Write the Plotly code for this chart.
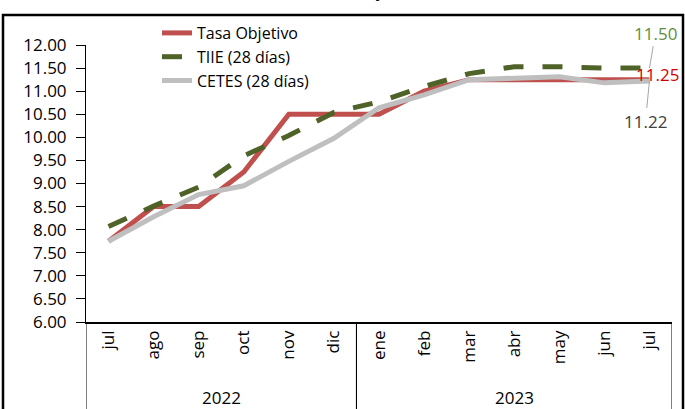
import plotly.graph_objects as go

years = ["2022"] * 6 + ["2023"] * 7
months = ["jul", "ago", "sep", "oct", "nov", "dic", "ene", "feb", "mar", "abr", "may", "jun", "jul"]

tasa_objetivo = [7.75, 8.50, 8.50, 9.25, 10.50, 10.50, 10.50, 11.00, 11.25, 11.25, 11.25, 11.25, 11.25]
tiie_28 = [8.07, 8.51, 8.92, 9.60, 10.04, 10.54, 10.77, 11.10, 11.38, 11.53, 11.53, 11.50, 11.50]
cetes_28 = [7.75, 8.28, 8.76, 8.95, 9.48, 9.98, 10.64, 10.92, 11.25, 11.27, 11.31, 11.18, 11.22]

y_ticks = [6.0, 6.5, 7.0, 7.5, 8.0, 8.5, 9.0, 9.5, 10.0, 10.5, 11.0, 11.5, 12.0]

FONT = "Open Sans"
FS = 17
W, H = 685, 409
ML, MR, MT, MB = 86, 13, 45, 87
pw, ph = W - ML - MR, H - MT - MB

def px_x(p):
    return (p - ML) / pw

def px_y(p):
    return (H - MB - p) / ph

idx = list(range(len(months)))

fig = go.Figure()
fig.add_trace(go.Scatter(x=idx, y=tasa_objetivo, mode="lines", name="Tasa Objetivo",
                         line=dict(color="#C0504D", width=5)))
fig.add_trace(go.Scatter(x=idx, y=tiie_28, mode="lines", name="TIIE (28 días)",
                         line=dict(color="#4F6228", width=5, dash="20px,19px")))
fig.add_trace(go.Scatter(x=idx, y=cetes_28, mode="lines", name="CETES (28 días)",
                         line=dict(color="#BFBFBF", width=5)))

last = idx[-1]
fig.add_annotation(x=last, y=tiie_28[-1], text=f"{tiie_28[-1]:.2f}", showarrow=True,
                   ax=6, ay=-35, arrowhead=0, arrowwidth=1, arrowcolor="#A6A6A6",
                   font=dict(color="#5E8E3E", size=FS, family=FONT))
fig.add_annotation(x=last, y=tasa_objetivo[-1], text=f"{tasa_objetivo[-1]:.2f}", showarrow=False,
                   xshift=8, yshift=5, font=dict(color="#D40000", size=FS, family=FONT))
fig.add_annotation(x=last, y=cetes_28[-1], text=f"{cetes_28[-1]:.2f}", showarrow=True,
                   ax=-4, ay=40, arrowhead=0, arrowwidth=1, arrowcolor="#A6A6A6",
                   font=dict(color="#404040", size=FS, family=FONT))

# year group labels and dividers (derived from the year list)
groups = []
for i, yv in enumerate(years):
    if not groups or groups[-1][0] != yv:
        groups.append([yv, i, i])
    else:
        groups[-1][2] = i
for yv, i0, i1 in groups:
    fig.add_annotation(x=(i0 + i1) / 2, y=px_y(397), xref="x", yref="paper", text=yv,
                       showarrow=False, xanchor="center", yanchor="middle",
                       font=dict(size=FS, family=FONT, color="black"))
    for xb in (i0 - 0.5, i1 + 0.5):
        fig.add_shape(type="line", xref="x", yref="paper", x0=xb, x1=xb, y0=0, y1=px_y(470),
                      line=dict(color="black", width=1))

# partial title at the top (cropped in the original)
fig.add_annotation(xref="paper", yref="paper", x=px_x(348), y=px_y(4), text="(Porcentaje)",
                   showarrow=False, xanchor="center", yanchor="bottom",
                   font=dict(color="#000000", size=FS, family=FONT))

# outer chart frame
fig.add_shape(type="rect", xref="paper", yref="paper",
              x0=px_x(3), x1=px_x(683), y0=px_y(15), y1=px_y(470),
              line=dict(color="black", width=2.5), layer="below")

fig.update_layout(
    width=W, height=H,
    margin=dict(l=ML, r=MR, t=MT, b=MB, autoexpand=False),
    paper_bgcolor="white", plot_bgcolor="white",
    font=dict(family=FONT, size=FS, color="black"),
    showlegend=True,
    legend=dict(x=px_x(157), y=px_y(16), xanchor="left", yanchor="top",
                bgcolor="rgba(0,0,0,0)", font=dict(size=16, family=FONT),
                tracegroupgap=0),
)
fig.update_yaxes(range=[6, 12], tickvals=y_ticks, ticktext=[f"{v:.2f}" for v in y_ticks],
                 showgrid=False, zeroline=False, showline=True, linecolor="black", linewidth=1,
                 ticks="outside", ticklen=9, tickcolor="black", tickfont=dict(size=FS),
                 ticklabelstandoff=6, automargin=False)
fig.update_xaxes(range=[-0.5, len(months) - 0.5], tickvals=idx, ticktext=months,
                 showgrid=False, zeroline=False, showline=True,
                 linecolor="black", linewidth=1.5, ticks="", tickangle=-90,
                 tickfont=dict(size=FS), automargin=False)

fig.write_html("out.html", config={"displayModeBar": False},
               post_script="document.body.style.margin='0px';document.body.style.overflow='hidden';")
